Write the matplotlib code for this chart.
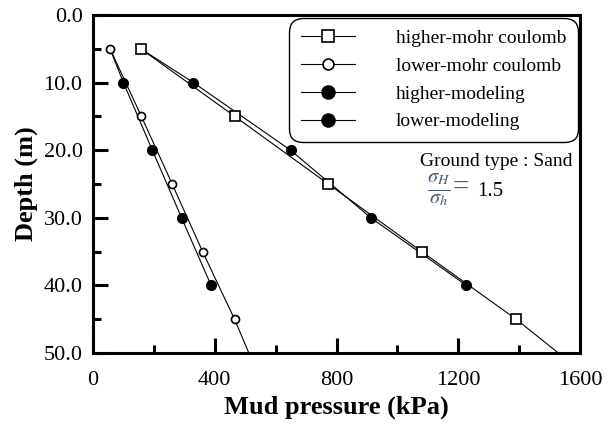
import numpy as np
import matplotlib
matplotlib.use('Agg')
import matplotlib.pyplot as plt
from matplotlib.ticker import MultipleLocator, FormatStrFormatter

plt.rcParams['font.family'] = ['Liberation Serif', 'DejaVu Serif']
plt.rcParams['mathtext.fontset'] = 'stix'

# data (depth in m, pressure in kPa)
depth_mohr = [5, 15, 25, 35, 45, 50]
higher_mohr = [157, 466, 773, 1080, 1390, 1529]
lower_mohr = [56, 159, 260, 360, 465, 512]

# modeling lines start at the first mohr-coulomb point (no marker there)
depth_model = [5, 10, 20, 30, 40]
higher_model = [157, 330, 649, 913, 1227]
lower_model = [56, 100, 195, 291, 388]

x_ticks = [0, 400, 800, 1200, 1600]
y_ticks = [0, 10, 20, 30, 40, 50]

fig = plt.figure(figsize=(6.12, 4.25), dpi=100)
ax = fig.add_axes([93 / 612, 1 - 353 / 425, 487 / 612, 338 / 425])

lw = 0.8
# mohr coulomb lines, markers on every point but the end of the line
ax.plot(higher_mohr, depth_mohr, color='black', lw=lw, marker='s', ms=6.5,
        mfc='white', mec='black', mew=1.2, markevery=[0, 1, 2, 3, 4],
        label='higher-mohr coulomb', zorder=3)
ax.plot(lower_mohr, depth_mohr, color='black', lw=lw, marker='o', ms=5.8,
        mfc='white', mec='black', mew=1.2, markevery=[0, 1, 2, 3, 4],
        label='lower-mohr coulomb', zorder=3)
ax.plot(higher_model, depth_model, color='black', lw=lw, marker='o', ms=7,
        mfc='black', mec='black', markevery=[1, 2, 3, 4],
        label='higher-modeling', zorder=2)
ax.plot(lower_model, depth_model, color='black', lw=lw, marker='o', ms=7,
        mfc='black', mec='black', markevery=[1, 2, 3, 4],
        label='lower-modeling', zorder=2)

ax.set_xlim(0, 1600)
ax.set_ylim(50, 0)
ax.set_xticks(x_ticks)
ax.set_yticks(y_ticks)
ax.xaxis.set_minor_locator(MultipleLocator(200))
ax.yaxis.set_minor_locator(MultipleLocator(5))
ax.yaxis.set_major_formatter(FormatStrFormatter('%.1f'))

for s in ax.spines.values():
    s.set_linewidth(2.2)
ax.tick_params(which='major', direction='in', length=11, width=2.2,
               labelsize=16, top=False, right=False)
ax.tick_params(which='minor', direction='in', length=6, width=2.2,
               top=False, right=False)
ax.tick_params(axis='x', which='major', pad=13)
ax.tick_params(axis='y', which='major', pad=7.5)

ax.set_xlabel('Mud pressure (kPa)', fontsize=19, fontweight='bold', labelpad=4)
ax.set_ylabel('Depth (m)', fontsize=19, fontweight='bold', labelpad=4)

leg = ax.legend(loc='upper right', bbox_to_anchor=(578 / 612, 1 - 18 / 425),
                bbox_transform=fig.transFigure, fontsize=14, frameon=True,
                fancybox=True, edgecolor='black', framealpha=1,
                handlelength=2.8, handletextpad=2.1, labelspacing=0.52,
                borderpad=0.6, borderaxespad=0, markerscale=1.35)
leg.get_frame().set_linewidth(1.0)
leg.get_frame().set_boxstyle('round,pad=0,rounding_size=0.7')

# pixel positions converted to figure coords (origin bottom-left)
fig.text(573 / 612, 1 - 162 / 425, 'Ground type : Sand',
         fontsize=14, ha='right', va='center')
fig.text(427 / 612, 1 - 190 / 425, r'$\frac{\sigma_H}{\sigma_h}$=',
         fontsize=21, ha='left', va='center', color='#4b5a78')
fig.text(477 / 612, 1 - 191 / 425, '1.5',
         fontsize=15, ha='left', va='center')

fig.savefig('out.png', dpi=100)
